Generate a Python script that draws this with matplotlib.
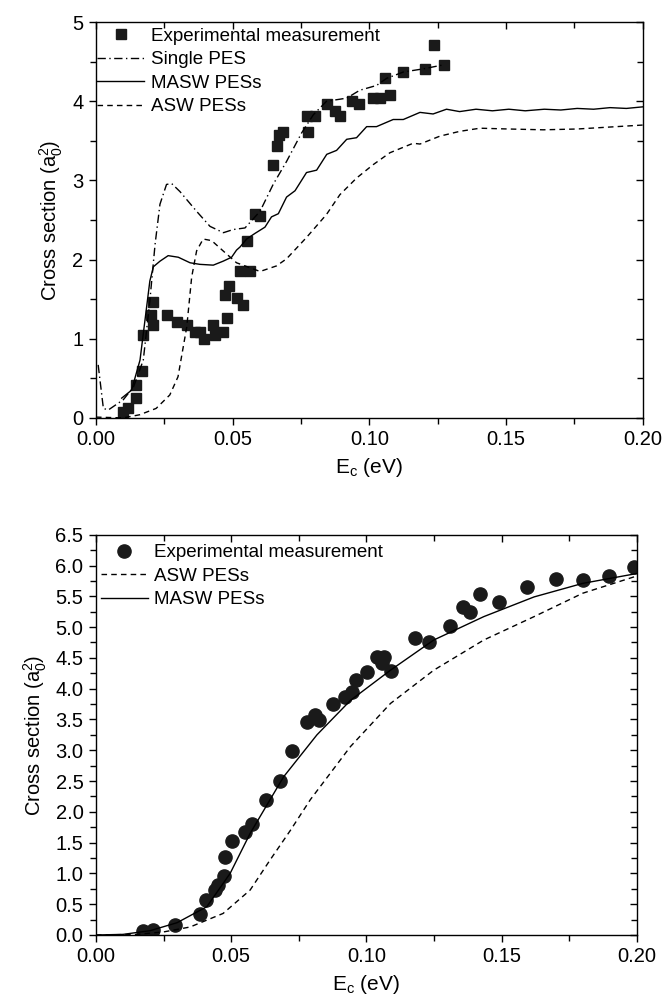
import numpy as np
import matplotlib
matplotlib.use("Agg")
import matplotlib.pyplot as plt
from matplotlib.ticker import MultipleLocator

plt.rcParams["font.family"] = ["Liberation Sans", "DejaVu Sans"]
plt.rcParams["mathtext.default"] = "regular"

# ---- top panel data ----
exp_top_x = [0.0100, 0.0118, 0.0146, 0.0146, 0.0167, 0.0173, 0.0201, 0.0210, 0.0210,
             0.0258, 0.0295, 0.0332, 0.0362, 0.0380, 0.0395, 0.0429, 0.0435, 0.0463,
             0.0478, 0.0472, 0.0488, 0.0514, 0.0536, 0.0527, 0.0563, 0.0551, 0.0581,
             0.0600, 0.0646, 0.0663, 0.0670, 0.0685, 0.0776, 0.0773, 0.0800, 0.0846,
             0.0874, 0.0892, 0.0935, 0.0963, 0.1014, 0.1038, 0.1075, 0.1057, 0.1124,
             0.1203, 0.1272, 0.1236]
exp_top_y = [0.08, 0.12, 0.25, 0.41, 0.59, 1.05, 1.30, 1.47, 1.18,
             1.30, 1.21, 1.18, 1.08, 1.08, 1.00, 1.18, 1.05, 1.08,
             1.26, 1.55, 1.67, 1.51, 1.43, 1.86, 1.85, 2.23, 2.57,
             2.55, 3.19, 3.44, 3.57, 3.61, 3.61, 3.82, 3.82, 3.96,
             3.88, 3.82, 4.00, 3.96, 4.04, 4.04, 4.08, 4.29, 4.37,
             4.41, 4.46, 4.71]

single_x = [0.0008, 0.0027, 0.0045, 0.0100, 0.0137, 0.0173, 0.0197, 0.0216, 0.0234,
            0.0258, 0.0277, 0.0307, 0.0368, 0.0417, 0.0466, 0.0502, 0.0545, 0.0600,
            0.0648, 0.0697, 0.0752, 0.0795, 0.0843, 0.0917, 0.0965, 0.1026, 0.1063,
            0.1124, 0.1197, 0.1270]
single_y = [0.67, 0.12, 0.10, 0.23, 0.39, 0.73, 1.48, 2.19, 2.70,
            2.95, 2.96, 2.86, 2.61, 2.42, 2.34, 2.38, 2.40, 2.61,
            2.95, 3.24, 3.60, 3.83, 4.00, 4.04, 4.14, 4.20, 4.29,
            4.37, 4.41, 4.46]

masw_top_x = [0.0094, 0.0130, 0.0161, 0.0179, 0.0197, 0.0210, 0.0234, 0.0264, 0.0301,
              0.0344, 0.0380, 0.0429, 0.0465, 0.0496, 0.0514, 0.0527, 0.0551, 0.0581,
              0.0618, 0.0642, 0.0667, 0.0697, 0.0728, 0.0770, 0.0807, 0.0844, 0.0880,
              0.0917, 0.0953, 0.0990, 0.1026, 0.1087, 0.1124, 0.1185, 0.1233, 0.1282,
              0.1330, 0.1390, 0.1450, 0.1510, 0.1570, 0.1640, 0.1700, 0.1760, 0.1820,
              0.1880, 0.1940, 0.2000]
masw_top_y = [0.25, 0.35, 0.73, 1.23, 1.73, 1.91, 1.98, 2.05, 2.03,
              1.96, 1.94, 1.93, 1.98, 2.03, 2.12, 2.16, 2.26, 2.33,
              2.41, 2.54, 2.58, 2.79, 2.87, 3.10, 3.13, 3.33, 3.38,
              3.52, 3.54, 3.68, 3.68, 3.77, 3.77, 3.86, 3.84, 3.90,
              3.87, 3.90, 3.88, 3.90, 3.88, 3.90, 3.89, 3.91, 3.90,
              3.92, 3.91, 3.93]

asw_top_x = [0.0000, 0.0100, 0.0160, 0.0220, 0.0270, 0.0300, 0.0332, 0.0350, 0.0368,
             0.0392, 0.0423, 0.0465, 0.0514, 0.0600, 0.0660, 0.0697, 0.0770, 0.0843,
             0.0892, 0.0953, 0.1014, 0.1075, 0.1160, 0.1185, 0.1258, 0.1330, 0.1404,
             0.1510, 0.1636, 0.1760, 0.2000]
asw_top_y = [0.01, 0.00, 0.04, 0.12, 0.29, 0.52, 1.15, 1.78, 2.11,
             2.26, 2.24, 2.11, 1.96, 1.85, 1.92, 2.01, 2.28, 2.57,
             2.82, 3.03, 3.20, 3.35, 3.47, 3.46, 3.56, 3.62, 3.66,
             3.65, 3.64, 3.65, 3.70]

# ---- bottom panel data ----
exp_bot_x = [0.0175, 0.0212, 0.0293, 0.0385, 0.0407, 0.0441, 0.0453, 0.0474, 0.0478,
             0.0502, 0.0552, 0.0577, 0.0627, 0.0679, 0.0724, 0.0780, 0.0811, 0.0823,
             0.0877, 0.0922, 0.0947, 0.0963, 0.1002, 0.1040, 0.1064, 0.1058, 0.1091,
             0.1181, 0.1231, 0.1309, 0.1358, 0.1383, 0.1420, 0.1490, 0.1595, 0.1700,
             0.1800, 0.1897, 0.1990]
exp_bot_y = [0.07, 0.08, 0.17, 0.34, 0.57, 0.73, 0.81, 0.96, 1.27,
             1.53, 1.68, 1.80, 2.20, 2.50, 2.99, 3.46, 3.57, 3.49,
             3.75, 3.87, 3.95, 4.14, 4.27, 4.52, 4.52, 4.41, 4.29,
             4.83, 4.76, 5.02, 5.32, 5.25, 5.54, 5.41, 5.65, 5.78,
             5.77, 5.83, 5.98]

masw_bot_x = [0.000, 0.010, 0.020, 0.030, 0.041, 0.0496, 0.057, 0.0644, 0.0694,
              0.0817, 0.0941, 0.1089, 0.1249, 0.1434, 0.162, 0.180, 0.200]
masw_bot_y = [0.00, 0.01, 0.07, 0.20, 0.46, 1.00, 1.65, 2.20, 2.57,
              3.25, 3.81, 4.30, 4.79, 5.17, 5.49, 5.71, 5.87]

asw_bot_x = [0.000, 0.015, 0.025, 0.0348, 0.047, 0.057, 0.0644, 0.0719, 0.0793,
             0.0941, 0.1089, 0.1249, 0.1434, 0.162, 0.180, 0.200]
asw_bot_y = [0.00, 0.01, 0.05, 0.13, 0.35, 0.73, 1.22, 1.70, 2.20,
             3.06, 3.76, 4.30, 4.79, 5.17, 5.55, 5.83]

fig = plt.figure(figsize=(6.62, 10.07), dpi=100)
ax1 = fig.add_axes([0.145, 0.585, 0.826, 0.393])
ax2 = fig.add_axes([0.145, 0.0715, 0.817, 0.3975])

lw = 1.0
dashdot = (0, (6, 2.5, 1, 2.5))
dashed = (0, (4, 3))

ax1.plot(exp_top_x, exp_top_y, "s", color="#1a1a1a", ms=7, label="Experimental measurement")
ax1.plot(single_x, single_y, color="black", lw=lw, ls=dashdot, label="Single PES")
ax1.plot(masw_top_x, masw_top_y, color="black", lw=lw, ls="-", label="MASW PESs")
ax1.plot(asw_top_x, asw_top_y, color="black", lw=lw, ls=dashed, label="ASW PESs")

ax2.plot(exp_bot_x, exp_bot_y, "o", color="#1a1a1a", ms=9.5, label="Experimental measurement")
ax2.plot(asw_bot_x, asw_bot_y, color="black", lw=lw, ls=dashed, label="ASW PESs")
ax2.plot(masw_bot_x, masw_bot_y, color="black", lw=lw, ls="-", label="MASW PESs")

ax1.set_xlim(0, 0.2)
ax1.set_ylim(0, 5)
ax1.xaxis.set_major_locator(MultipleLocator(0.05))
ax1.xaxis.set_minor_locator(MultipleLocator(0.025))
ax1.yaxis.set_major_locator(MultipleLocator(1))
ax1.yaxis.set_minor_locator(MultipleLocator(0.5))
ax1.xaxis.set_major_formatter(plt.FormatStrFormatter("%.2f"))

ax2.set_xlim(0, 0.2)
ax2.set_ylim(0, 6.5)
ax2.xaxis.set_major_locator(MultipleLocator(0.05))
ax2.xaxis.set_minor_locator(MultipleLocator(0.025))
ax2.yaxis.set_major_locator(MultipleLocator(0.5))
ax2.yaxis.set_minor_locator(MultipleLocator(0.25))
ax2.xaxis.set_major_formatter(plt.FormatStrFormatter("%.2f"))
ax2.yaxis.set_major_formatter(plt.FormatStrFormatter("%.1f"))

for ax, bpad in ((ax1, 0.3), (ax2, 0.5)):
    for sp in ax.spines.values():
        sp.set_linewidth(1.0)
    ax.tick_params(which="both", direction="out", left=True, bottom=True,
                   labelsize=14.5, width=1.0, colors="black", pad=4)
    ax.tick_params(which="major", length=5)
    ax.tick_params(which="minor", length=4)
    ax.tick_params(which="both", axis="x", top=True)
    ax.tick_params(which="both", axis="y", right=True)
    ax.set_xlabel("E$_c$ (eV)", fontsize=15, labelpad=5)
    ax.set_ylabel("Cross section (a$_0^2$)", fontsize=14.5, labelpad=5)
    ax.legend(loc="upper left", bbox_to_anchor=(-0.008, 1.0), frameon=False,
              fontsize=13.5, borderaxespad=0, borderpad=bpad, handlelength=2.5,
              handletextpad=0.35, labelspacing=0.34, numpoints=1)

# inward ticks on the mirrored top and right spines
for ax in (ax1, ax2):
    for t in ax.xaxis.get_major_ticks() + ax.xaxis.get_minor_ticks():
        t.tick2line.set_marker(3)
    for t in ax.yaxis.get_major_ticks() + ax.yaxis.get_minor_ticks():
        t.tick2line.set_marker(0)

fig.savefig("out.png", dpi=100)
